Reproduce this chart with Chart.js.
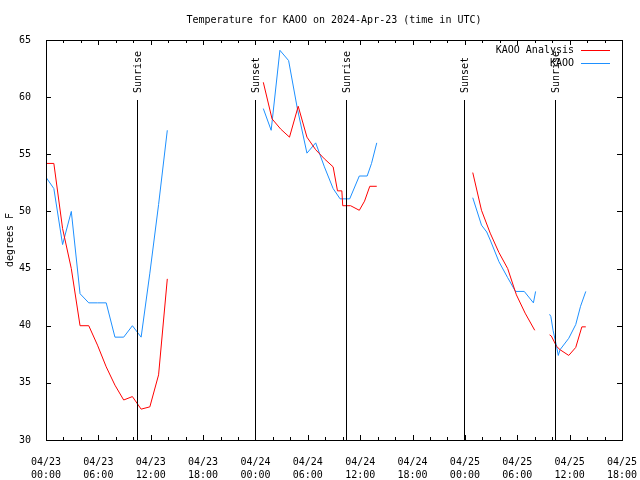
<!DOCTYPE html>
<html>
<head>
<meta charset="utf-8">
<title>Temperature for KAOO</title>
<script src="https://cdn.jsdelivr.net/npm/chart.js@4.4.1/dist/chart.umd.min.js"></script>
<style>
  html, body { margin: 0; padding: 0; background: #fff; }
  canvas { display: block; }
</style>
</head>
<body>
<canvas id="tempChart" width="640" height="480"></canvas>
<script>
// hours since 2024-04-23 00:00 UTC, null breaks the line where data is missing
const analysisHours = [-0.1, 0.9, 1.9, 2.9, 3.9, 4.9, 5.9, 6.9, 7.9, 8.9, 9.9, 10.9, 11.9, 12.9, 13.9,
  19,
  24.9, 25.9, 26.9, 27.9, 28.9, 29.9, 30.9, 31.9, 32.9, 33.4, 33.9, 34.0, 34.9, 35.9, 36.5, 37.1, 37.9,
  43,
  48.9, 49.9, 50.9, 51.9, 52.9, 53.9, 54.9, 56.0,
  57,
  57.7, 57.9, 58.5, 58.9, 59.9, 60.7, 61.4, 61.85];
const analysisTemps = [54.2, 54.2, 48.5, 45.0, 40.0, 40.0, 38.3, 36.4, 34.8, 33.5, 33.8, 32.7, 32.9, 35.7, 44.1,
  null,
  61.3, 58.1, 57.2, 56.5, 59.2, 56.5, 55.4, 54.6, 53.9, 51.8, 51.8, 50.5, 50.5, 50.1, 50.9, 52.2, 52.2,
  null,
  53.4, 50.1, 48.1, 46.4, 45.0, 42.7, 41.1, 39.6,
  null,
  39.2, 39.1, 38.2, 37.9, 37.4, 38.1, 39.9, 39.9];

const obsHours = [-0.1, 0.9, 1.9, 2.9, 3.9, 4.9, 5.9, 6.9, 7.9, 8.9, 9.9, 10.9, 11.9, 12.9, 13.9,
  19,
  24.9, 25.8, 26.8, 27.8, 28.8, 29.9, 30.9, 31.9, 32.9, 33.7, 34.8, 35.9, 36.8, 37.3, 37.9,
  43,
  48.9, 49.9, 50.5, 50.9, 51.9, 52.9, 53.8, 54.8, 55.85, 56.1,
  57,
  57.7, 57.85, 58.1, 58.5, 58.7, 58.9, 59.9, 60.7, 61.25, 61.85];
const obsTemps = [53.1, 52.0, 47.1, 50.0, 42.8, 42.0, 42.0, 42.0, 39.0, 39.0, 40.0, 39.0, 44.6, 50.6, 57.1,
  null,
  59.0, 57.1, 64.1, 63.2, 59.0, 55.1, 56.0, 53.9, 52.0, 51.1, 51.1, 53.1, 53.1, 54.2, 56.0,
  null,
  51.2, 48.8, 48.2, 47.5, 45.6, 44.2, 43.0, 43.0, 42.0, 43.0,
  null,
  41.0, 40.8, 39.6, 38.2, 37.4, 37.9, 38.9, 40.1, 41.7, 43.0];

const sunHours = [10.46, 23.98, 34.41, 47.95, 58.36];
const sunLabels = ['Sunrise', 'Sunset', 'Sunrise', 'Sunset', 'Sunrise'];

// one label pair per 6 hours, 0..66
const xTickDates = ['04/23', '04/23', '04/23', '04/23', '04/24', '04/24', '04/24', '04/24', '04/25', '04/25', '04/25', '04/25'];
const xTickTimes = ['00:00', '06:00', '12:00', '18:00', '00:00', '06:00', '12:00', '18:00', '00:00', '06:00', '12:00', '18:00'];
const yMin = 30, yMax = 65, yStep = 5;

const FONT = '"DejaVu Sans Mono", "Liberation Mono", monospace';

function toPoints(xs, ys) {
    return xs.map((x, i) => ({ x: x, y: ys[i] }));
}

// gnuplot-like frame: box, inward ticks, title, axis label, sun lines, key
const framePlugin = {
    id: 'frame',
    afterDatasetsDraw(chart) {
        const ctx = chart.ctx;
        const a = chart.chartArea;
        const xs = chart.scales.x, ys = chart.scales.y;
        ctx.save();
        ctx.strokeStyle = '#000';
        ctx.lineWidth = 1;

        // sunrise / sunset markers
        ctx.font = '10px ' + FONT;
        ctx.fillStyle = '#000';
        sunHours.forEach((h, i) => {
            const px = Math.round(xs.getPixelForValue(h)) + 0.5;
            ctx.beginPath();
            ctx.moveTo(px, a.bottom);
            ctx.lineTo(px, a.top + 60);
            ctx.stroke();
            ctx.save();
            ctx.translate(px + 1, a.top + 53);
            ctx.rotate(-Math.PI / 2);
            ctx.textAlign = 'left';
            ctx.textBaseline = 'middle';
            ctx.fillText(sunLabels[i], 0, 0);
            ctx.restore();
        });

        // frame
        ctx.strokeRect(a.left + 0.5, a.top + 0.5, a.right - a.left, a.bottom - a.top);

        // x ticks (bottom and mirrored top)
        ctx.beginPath();
        xs.ticks.forEach(t => {
            const px = Math.round(xs.getPixelForValue(t.value)) + 0.5;
            const len = t.value % 6 === 0 ? 5 : 3;
            ctx.moveTo(px, a.bottom);
            ctx.lineTo(px, a.bottom - len);
            ctx.moveTo(px, a.top);
            ctx.lineTo(px, a.top + len);
        });
        // y ticks (left and mirrored right)
        ys.ticks.forEach(t => {
            const py = Math.round(ys.getPixelForValue(t.value)) + 0.5;
            ctx.moveTo(a.left, py);
            ctx.lineTo(a.left + 5, py);
            ctx.moveTo(a.right, py);
            ctx.lineTo(a.right - 5, py);
        });
        ctx.stroke();

        // title
        ctx.textAlign = 'center';
        ctx.textBaseline = 'middle';
        ctx.fillText('Temperature for KAOO on 2024-Apr-23 (time in UTC)', (a.left + a.right) / 2, 20);

        // y axis label
        ctx.save();
        ctx.translate(10, (a.top + a.bottom) / 2);
        ctx.rotate(-Math.PI / 2);
        ctx.fillText('degrees F', 0, 0);
        ctx.restore();

        // key
        const keys = [['KAOO Analysis', '#ff0000'], ['KAOO', '#1e90ff']];
        keys.forEach((k, i) => {
            const y = 50 + i * 13;
            ctx.fillStyle = '#000';
            ctx.textAlign = 'right';
            ctx.fillText(k[0], 574, y);
            ctx.strokeStyle = k[1];
            ctx.beginPath();
            ctx.moveTo(581, y + 0.5);
            ctx.lineTo(610, y + 0.5);
            ctx.stroke();
        });
        ctx.restore();
    }
};

new Chart(document.getElementById('tempChart'), {
    type: 'line',
    data: {
        datasets: [{
            label: 'KAOO Analysis',
            data: toPoints(analysisHours, analysisTemps),
            borderColor: '#ff0000',
            borderWidth: 1,
            pointRadius: 0,
            tension: 0,
            spanGaps: false
        }, {
            label: 'KAOO',
            data: toPoints(obsHours, obsTemps),
            borderColor: '#1e90ff',
            borderWidth: 1,
            pointRadius: 0,
            tension: 0,
            spanGaps: false
        }]
    },
    options: {
        responsive: false,
        animation: false,
        devicePixelRatio: 1,
        layout: { padding: { top: 40, right: 18, left: 0, bottom: 0 } },
        plugins: {
            legend: { display: false },
            title: { display: false },
            tooltip: { enabled: false }
        },
        scales: {
            x: {
                type: 'linear',
                min: 0,
                max: 66,
                grid: { display: false },
                border: { display: false },
                afterFit(scale) {
                    scale.height = 40;
                    scale.paddingLeft = 0;
                    scale.paddingRight = 0;
                },
                ticks: {
                    stepSize: 2,
                    autoSkip: false,
                    maxRotation: 0,
                    minRotation: 0,
                    padding: 8,
                    color: '#000',
                    font: { family: FONT, size: 10, lineHeight: 1.27 },
                    callback(v) {
                        if (v % 6 !== 0) return '';
                        const i = v / 6;
                        return [xTickDates[i], xTickTimes[i]];
                    }
                }
            },
            y: {
                min: yMin,
                max: yMax,
                grid: { display: false },
                border: { display: false },
                afterFit(scale) {
                    scale.width = 46;
                    scale.paddingTop = 0;
                    scale.paddingBottom = 0;
                },
                ticks: {
                    stepSize: yStep,
                    padding: 7,
                    color: '#000',
                    font: { family: FONT, size: 10 }
                }
            }
        }
    },
    plugins: [framePlugin]
});
</script>
</body>
</html>
